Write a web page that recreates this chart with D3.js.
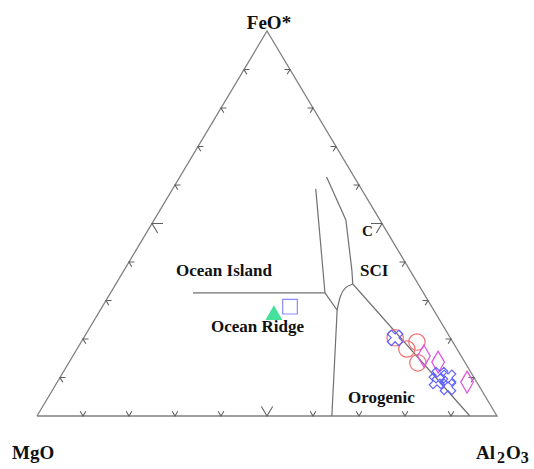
<!DOCTYPE html>
<html>
<head>
<meta charset="utf-8">
<script src="https://cdn.jsdelivr.net/npm/d3@7"></script>
<style>
  body { margin: 0; background: #fff; }
  text { font-family: "Liberation Serif", "Times New Roman", serif; font-weight: bold; fill: #111; }
</style>
</head>
<body>
<svg width="534" height="469"></svg>
<script>
// all compositions are [MgO, FeO*, Al2O3] in percent
const tickValues = [10, 20, 30, 40, 50, 60, 70, 80, 90];

// field boundaries
const islandLine = [[50.1, 32.0, 17.9], [21.4, 32.0, 46.6]];
const ridgeUpper = [[9.9, 59.0, 31.1], [21.4, 32.0, 46.6]];
const ridgeLower = [[21.4, 32.0, 46.6], [21.0, 27.5, 51.5], [35.9, 0, 64.1]];
const ridgeCurve = [[21.0, 27.5, 51.5], [18.4, 31.4, 50.2], [16.3, 33.5, 50.2], [14.2, 34.3, 51.5]];
const sciLine = [[6.0, 62.1, 31.9], [7.4, 50.9, 41.7], [12.6, 37.9, 49.5], [14.2, 34.3, 51.5], [5.9, 0, 94.1]];

// samples
const triangles = [[35.4, 26.2, 38.4]];
const squares = [[30.8, 28.4, 40.8]];
const circles = [[12.0, 20.3, 67.7], [7.8, 19.2, 73.0], [10.9, 17.4, 71.7], [10.3, 13.8, 75.9]];
const diamonds = [[8.1, 15.6, 76.3], [5.8, 14.0, 80.2], [2.1, 8.8, 89.1]];
const crosses = [[12.0, 20.3, 67.7], [7.1, 10.6, 82.3], [5.7, 9.9, 84.4], [8.5, 9.1, 82.4], [6.8, 7.5, 84.7]];

const svg = d3.select("svg");
svg.append("rect").attr("width", 534).attr("height", 469).attr("fill", "#fff");

const x = d3.scaleLinear().domain([0, 1]).range([37, 497]);
const y = d3.scaleLinear().domain([0, 1]).range([416, 31]);

function proj(d) {
  const s = d[0] + d[1] + d[2];
  const f = d[1] / s, a = d[2] / s;
  return [x(a + f / 2), y(f)];
}

const line = d3.line().x(d => proj(d)[0]).y(d => proj(d)[1]);

// frame
svg.append("path")
  .attr("d", line([[100, 0, 0], [0, 100, 0], [0, 0, 100], [100, 0, 0]]))
  .attr("fill", "none").attr("stroke", "#808080").attr("stroke-width", 1.3);

// ticks: chevrons whose arms run parallel to the other two sides
const ex = x(0.5) - x(0), ey = y(1) - y(0);
const len = Math.hypot(ex, ey);
const up = [ex / len, ey / len];       // along left edge, upward
const upL = [-ex / len, ey / len];     // along right edge, upward
const ticks = [];
tickValues.forEach(t => {
  const L = t === 50 ? 11 : 5.5;
  ticks.push({ p: proj([100 - t, 0, t]), a: up, b: upL, L });
  ticks.push({ p: proj([100 - t, t, 0]), a: [1, 0], b: [-upL[0], -upL[1]], L });
  ticks.push({ p: proj([0, t, 100 - t]), a: [-1, 0], b: [-up[0], -up[1]], L });
});
svg.append("g").selectAll("path").data(ticks).join("path")
  .attr("d", d => `M${d.p[0] + d.a[0] * d.L},${d.p[1] + d.a[1] * d.L}L${d.p[0]},${d.p[1]}L${d.p[0] + d.b[0] * d.L},${d.p[1] + d.b[1] * d.L}`)
  .attr("fill", "none").attr("stroke", "#606060").attr("stroke-width", 1.1);

// boundaries
svg.append("g").selectAll("path")
  .data([islandLine, ridgeUpper, ridgeLower, sciLine])
  .join("path")
  .attr("d", line)
  .attr("fill", "none").attr("stroke", "#707070").attr("stroke-width", 1.2);
svg.append("path")
  .attr("d", line.curve(d3.curveBasis)(ridgeCurve))
  .attr("fill", "none").attr("stroke", "#707070").attr("stroke-width", 1.2);
line.curve(d3.curveLinear);

// region labels
const regionText = [
  { t: "Ocean Island", x: 176, y: 276, s: 17 },
  { t: "Ocean Ridge", x: 211, y: 332, s: 17 },
  { t: "SCI", x: 360, y: 276, s: 17 },
  { t: "C", x: 362, y: 236, s: 15 },
  { t: "Orogenic", x: 348, y: 403, s: 17 }
];
svg.append("g").selectAll("text").data(regionText).join("text")
  .attr("x", d => d.x).attr("y", d => d.y).attr("font-size", d => d.s).text(d => d.t);

// samples
function drawSymbols(data, type, size, fill, stroke, rot) {
  svg.append("g").selectAll("path").data(data).join("path")
    .attr("d", d3.symbol().type(type).size(size))
    .attr("transform", d => `translate(${proj(d)})rotate(${rot})`)
    .attr("fill", fill).attr("stroke", stroke).attr("stroke-width", 1.2);
}
drawSymbols(triangles, d3.symbolTriangle, 125, "#44e09c", "none", 0);
drawSymbols(squares, d3.symbolSquare, 215, "none", "#8a8aff", 0);
drawSymbols(circles, d3.symbolCircle, 210, "none", "#f27070", 0);
drawSymbols(diamonds, d3.symbolDiamond, 140, "none", "#e050e0", 0);
drawSymbols(crosses, d3.symbolCross, 150, "none", "#6464ff", 45);

// apex labels
svg.append("text").attr("x", 269).attr("y", 29).attr("text-anchor", "middle")
  .attr("font-size", 19).text("FeO*");
svg.append("text").attr("x", 12).attr("y", 459).attr("font-size", 19).text("MgO");
const al = svg.append("text").attr("x", 476).attr("y", 459).attr("font-size", 19);
al.append("tspan").text("Al");
al.append("tspan").attr("dx", 2).attr("dy", 4).attr("font-size", 16).text("2");
al.append("tspan").attr("dx", 1).attr("dy", -4).text("O");
al.append("tspan").attr("dy", 4).attr("font-size", 16).text("3");
</script>
</body>
</html>
